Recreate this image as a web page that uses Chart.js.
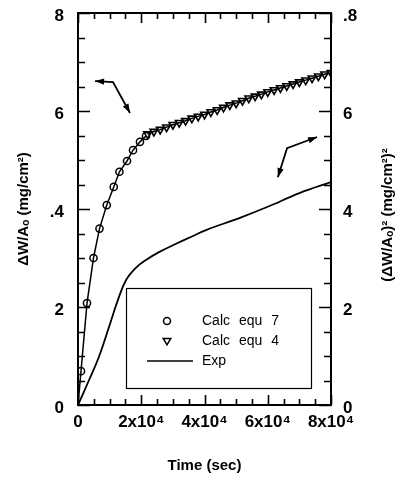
<!DOCTYPE html>
<html><head><meta charset="utf-8">
<script src="https://cdn.jsdelivr.net/npm/chart.js@4.4.0/dist/chart.umd.min.js"></script>
<style>html,body{margin:0;padding:0;background:#fff}</style>
</head><body>
<canvas id="c" width="404" height="481"></canvas>
<script>
// ---- data ----
const equ7Time  = [0, 950, 2850, 4900, 6800, 9100, 11300, 13100, 15500, 17400, 19600, 21500];
const equ7Value = [0, 0.69, 2.08, 3.00, 3.60, 4.08, 4.45, 4.76, 4.98, 5.20, 5.37, 5.49];

const equ4Time  = [22000, 24000, 26000, 28000, 30000, 32000, 34000, 36000, 38000, 40000,
                   42000, 44000, 46000, 48000, 50000, 52000, 54000, 56000, 58000, 60000,
                   62000, 64000, 66000, 68000, 70000, 72000, 74000, 76000, 78000, 80000];
const equ4Value = [5.53, 5.58, 5.62, 5.67, 5.72, 5.76, 5.80, 5.85, 5.89, 5.93,
                   5.98, 6.02, 6.07, 6.12, 6.16, 6.21, 6.26, 6.30, 6.34, 6.39,
                   6.43, 6.47, 6.51, 6.55, 6.59, 6.63, 6.67, 6.71, 6.75, 6.78];

const expTime  = [0, 3500, 6600, 9800, 12600, 15200, 18300, 21500, 25600, 31000, 36400, 40500, 51200, 59800, 70200, 80000];
const expValue = [0, 0.51, 0.98, 1.59, 2.14, 2.55, 2.80, 2.96, 3.12, 3.29, 3.45, 3.57, 3.82, 4.04, 4.33, 4.55];

const xTickLabels      = ['0', '2x10\u2074', '4x10\u2074', '6x10\u2074', '8x10\u2074'];
const leftTickLabels   = ['0', '2', '.4', '6', '8'];
const rightTickLabels  = ['0', '2', '4', '6', '.8'];
const seriesLabels     = ['Calc equ 7', 'Calc equ 4', 'Exp'];

const xTitle     = 'Time (sec)';
const leftTitle  = '\u0394W/A\u2092 (mg/cm\u00b2)';
const rightTitle = '(\u0394W/A\u2092)\u00b2 (mg/cm\u00b2)\u00b2';

// annotation arrows in data coordinates: [bend, tip1, tip2]
const arrowLeftAxis  = [[11070, 6.59], [5400, 6.61], [16440, 5.96]];
const arrowRightAxis = [[66100, 5.24], [75600, 5.47], [63200, 4.65]];

// ---- chart ----
const FONT = "'Liberation Sans', Arial, 'DejaVu Sans', sans-serif";
const pts = (xs, ys) => xs.map((x, i) => ({x: x, y: ys[i]}));

function drawArrowHead(ctx, x1, y1, x2, y2) {
  const a = Math.atan2(y2 - y1, x2 - x1), L = 9, W = 3.2;
  ctx.beginPath();
  ctx.moveTo(x2, y2);
  ctx.lineTo(x2 - L * Math.cos(a) + W * Math.sin(a), y2 - L * Math.sin(a) - W * Math.cos(a));
  ctx.lineTo(x2 - L * Math.cos(a) - W * Math.sin(a), y2 - L * Math.sin(a) + W * Math.cos(a));
  ctx.closePath();
  ctx.fill();
}

const decorPlugin = {
  id: 'decor',
  afterDatasetsDraw(chart) {
    const ctx = chart.ctx, ca = chart.chartArea;
    const xs = chart.scales.x, ys = chart.scales.y;
    ctx.save();
    ctx.strokeStyle = '#000'; ctx.fillStyle = '#000';
    // frame
    ctx.lineWidth = 2;
    ctx.strokeRect(ca.left, ca.top, ca.right - ca.left, ca.bottom - ca.top);
    // inward ticks
    ctx.lineWidth = 1.6;
    ctx.beginPath();
    for (let v = 0; v <= 8.001; v += 0.5) {
      const y = Math.round(ys.getPixelForValue(v)) + 0.5;
      const len = (Math.abs(v % 2) < 1e-6) ? 12 : 7;
      ctx.moveTo(ca.left, y); ctx.lineTo(ca.left + len, y);
      ctx.moveTo(ca.right, y); ctx.lineTo(ca.right - len, y);
    }
    for (let t = 0; t <= 80000; t += 5000) {
      const x = Math.round(xs.getPixelForValue(t)) + 0.5;
      const len = (t % 20000 === 0) ? 10 : 6;
      ctx.moveTo(x, ca.bottom); ctx.lineTo(x, ca.bottom - len);
      ctx.moveTo(x, ca.top); ctx.lineTo(x, ca.top + len);
    }
    ctx.stroke();

    // arrows
    ctx.lineWidth = 1.8;
    [arrowLeftAxis, arrowRightAxis].forEach(a => {
      const p = a.map(q => [xs.getPixelForValue(q[0]), ys.getPixelForValue(q[1])]);
      ctx.beginPath();
      ctx.moveTo(p[1][0], p[1][1]); ctx.lineTo(p[0][0], p[0][1]); ctx.lineTo(p[2][0], p[2][1]);
      ctx.stroke();
      drawArrowHead(ctx, p[0][0], p[0][1], p[1][0], p[1][1]);
      drawArrowHead(ctx, p[0][0], p[0][1], p[2][0], p[2][1]);
    });

    // legend box
    const bx = ca.left + 48, by = ca.top + 275, bw = 185, bh = 100;
    ctx.lineWidth = 1.2;
    ctx.strokeRect(bx + 0.5, by + 0.5, bw, bh);
    const mx = bx + 41, tx = bx + 76;
    const rows = [by + 33, by + 53, by + 73];
    ctx.font = '14px ' + FONT;
    ctx.textBaseline = 'middle'; ctx.textAlign = 'left';
    if ('wordSpacing' in ctx) ctx.wordSpacing = '5px';
    ctx.lineWidth = 1.5;
    ctx.beginPath(); ctx.arc(mx, rows[0], 3.5, 0, Math.PI * 2); ctx.stroke();
    ctx.beginPath();
    ctx.moveTo(mx - 3.8, rows[1] - 2.6); ctx.lineTo(mx + 3.8, rows[1] - 2.6); ctx.lineTo(mx, rows[1] + 3.8); ctx.closePath();
    ctx.stroke();
    ctx.beginPath(); ctx.moveTo(bx + 21, rows[2]); ctx.lineTo(bx + 67, rows[2]); ctx.stroke();
    seriesLabels.forEach((s, i) => ctx.fillText(s, tx, rows[i]));
    if ('wordSpacing' in ctx) ctx.wordSpacing = '0px';

    // right axis title (reads bottom to top)
    ctx.font = 'bold 15px ' + FONT;
    ctx.textAlign = 'center'; ctx.textBaseline = 'middle';
    ctx.translate(388, (ca.top + ca.bottom) / 2 + 6);
    ctx.rotate(-Math.PI / 2);
    ctx.fillText(rightTitle, 0, 0);
    ctx.restore();
  }
};

const tickFont = {family: FONT, size: 17, weight: 'bold'};

new Chart(document.getElementById('c'), {
  type: 'scatter',
  data: {
    datasets: [
      {
        label: seriesLabels[0], data: pts(equ7Time, equ7Value), yAxisID: 'y',
        showLine: true, borderColor: '#000', borderWidth: 1.5,
        pointStyle: 'circle', pointRadius: c => (c.raw && c.raw.y === 0 ? 0 : 3.6),
        pointBorderColor: '#000', pointBackgroundColor: 'rgba(0,0,0,0)', pointBorderWidth: 1.5
      },
      {
        label: seriesLabels[1], data: pts(equ4Time, equ4Value), yAxisID: 'y',
        showLine: true, borderColor: '#000', borderWidth: 1.5,
        pointStyle: 'triangle', pointRotation: 180, pointRadius: 4.4,
        pointBorderColor: '#000', pointBackgroundColor: 'rgba(0,0,0,0)', pointBorderWidth: 1.6
      },
      {
        label: seriesLabels[2], data: pts(expTime, expValue), yAxisID: 'y2',
        showLine: true, borderColor: '#000', borderWidth: 1.8, pointRadius: 0,
        tension: 0.4
      }
    ]
  },
  options: {
    responsive: false, animation: false, devicePixelRatio: 1,
    layout: {padding: {top: 13, left: 0, right: 0, bottom: 0}},
    plugins: {legend: {display: false}, tooltip: {enabled: false}},
    scales: {
      x: {
        type: 'linear', position: 'bottom', min: 0, max: 80000,
        afterFit: s => { s.height = 76; s.paddingLeft = 0; s.paddingRight = 0; },
        grid: {display: false, drawTicks: false}, border: {display: false},
        ticks: {stepSize: 20000, padding: 7, color: '#000', font: tickFont, maxRotation: 0,
                callback: (v) => xTickLabels[Math.round(v / 20000)]},
        title: {display: true, text: xTitle, color: '#000', padding: {top: 0, bottom: 6},
                font: {family: FONT, size: 15, weight: 'bold'}}
      },
      y: {
        type: 'linear', position: 'left', min: 0, max: 8,
        afterFit: s => { s.width = 78; s.paddingTop = 0; s.paddingBottom = 0; },
        grid: {display: false, drawTicks: false}, border: {display: false},
        ticks: {stepSize: 2, padding: 14, color: '#000', font: tickFont, labelOffset: 3,
                callback: (v) => leftTickLabels[Math.round(v / 2)]},
        title: {display: true, text: leftTitle, color: '#000', padding: {top: 15, bottom: 0},
                font: {family: FONT, size: 15, weight: 'bold'}}
      },
      y2: {
        type: 'linear', position: 'right', min: 0, max: 8,
        afterFit: s => { s.width = 73; s.paddingTop = 0; s.paddingBottom = 0; },
        grid: {display: false, drawTicks: false}, border: {display: false},
        ticks: {stepSize: 2, padding: 12, color: '#000', font: tickFont, labelOffset: 3,
                callback: (v) => rightTickLabels[Math.round(v / 2)]}
      }
    }
  },
  plugins: [decorPlugin]
});
</script>
</body></html>
